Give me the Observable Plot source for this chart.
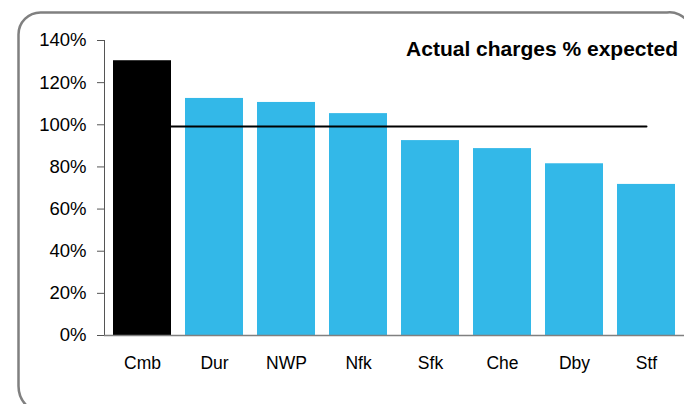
<!DOCTYPE html>
<html>
<head>
<meta charset="utf-8">
<script src="https://cdn.jsdelivr.net/npm/d3@7"></script>
<script src="https://cdn.jsdelivr.net/npm/@observablehq/plot@0.6"></script>
<style>
  html, body { margin: 0; padding: 0; background: #fff; overflow: hidden; }
  #wrap { position: relative; width: 684px; height: 404px; overflow: hidden; font-family: "Liberation Sans", Arial, sans-serif; }
  #chart { position: absolute; left: 0; top: 0; }
  #title { position: absolute; right: 6px; top: 37px; font-size: 21px; font-weight: bold; color: #000; white-space: nowrap; }
  #border { position: absolute; left: 0; top: 0; }
</style>
</head>
<body>
<div id="wrap">
  <svg id="border" width="684" height="404">
    <path d="M18.5,386 L18.5,34.5 A22,22 0 0 1 40.5,12.5 L667,12.5 A22,22 0 0 1 688,22" fill="none" stroke="#808080" stroke-width="2.5"/>
    <path d="M18.5,386 Q18.5,398 27,406" fill="none" stroke="#808080" stroke-width="2.5"/>
  </svg>
  <div id="chart"></div>
  <div id="title">Actual charges % expected</div>
</div>
<script>
const categories = ["Cmb", "Dur", "NWP", "Nfk", "Sfk", "Che", "Dby", "Stf"];
const actual = [130.4, 112.5, 110.6, 105.3, 92.5, 88.7, 81.5, 71.7];
const expected = 99.2;
const highlighted = "Cmb";
const yTicks = [0, 20, 40, 60, 80, 100, 120, 140];

const data = categories.map((c, i) => ({region: c, value: actual[i]}));
const refLine = categories.map(c => ({region: c, value: expected}));

const chart = Plot.plot({
  width: 684,
  height: 404,
  marginLeft: 104,
  marginRight: 0,
  marginTop: 40,
  marginBottom: 69,
  style: {fontFamily: "'Liberation Sans', Arial, sans-serif", fontSize: "18px", color: "#000", background: "transparent", overflow: "visible"},
  x: {domain: categories, paddingInner: 0.19, paddingOuter: 0.09, label: null},
  y: {domain: [0, 140], label: null},
  marks: [
    Plot.barY(data, {x: "region", y: "value", fill: d => d.region === highlighted ? "#000000" : "#33b8e8"}),
    Plot.lineY(refLine, {x: "region", y: "value", stroke: "#000", strokeWidth: 2}),
    Plot.frame({anchor: "left", stroke: "#555"}),
    Plot.ruleY([0], {stroke: "#808080", strokeWidth: 1.5}),
    Plot.axisY({ticks: yTicks, tickFormat: d => d + "%", tickSize: 7, tickPadding: 11, stroke: "#555", fill: "#000", fontSize: 18.5}),
    Plot.axisX({tickSize: 0, tickPadding: 21, fontSize: 17.5, fill: "#000"})
  ]
});
document.getElementById("chart").appendChild(chart);
</script>
</body>
</html>
